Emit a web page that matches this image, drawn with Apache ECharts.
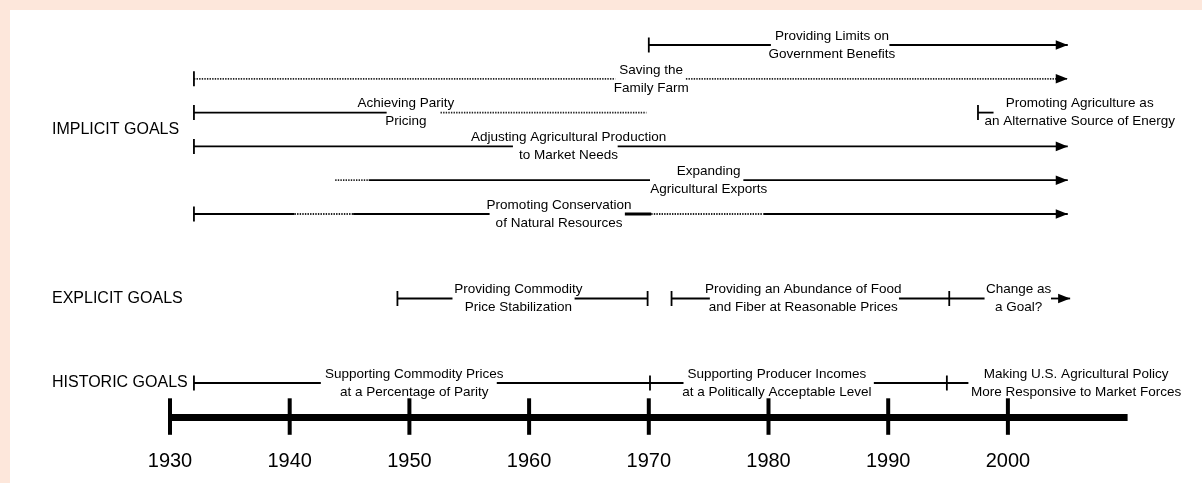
<!DOCTYPE html>
<html>
<head>
<meta charset="utf-8">
<script src="https://cdn.jsdelivr.net/npm/echarts@6/dist/echarts.min.js"></script>
<style>
  html, body { margin: 0; padding: 0; background: #fde7db; }
  #panel { position: absolute; left: 10px; top: 10px; width: 1192px; height: 473px; background: #ffffff; }
  #chart { position: absolute; left: 0; top: 0; width: 1202px; height: 483px; }
</style>
</head>
<body>
<div id="panel"></div>
<div id="chart"></div>
<script>
// ---- data ----
const tickYears = [1930, 1940, 1950, 1960, 1970, 1980, 1990, 2000];
const groupNames = ['IMPLICIT GOALS', 'EXPLICIT GOALS', 'HISTORIC GOALS'];
const groupRows = [2.5, 7.5, 10];
const timelineRow = 11;

// [row, fromYear, toYear]
const firmSegments = [
  [0, 1970, 1980.2], [0, 1990.1, 2005],
  [2, 1932, 1948.1],
  [2, 1997.5, 1998.8],
  [3, 1932, 1958.65], [3, 1967.4, 2005],
  [4, 1946.6, 1970.1], [4, 1977.9, 2005],
  [5, 1932, 1940.4], [5, 1945.3, 1956.7], [5, 1979.6, 2005],
  [7.5, 1949, 1953.6], [7.5, 1963.8, 1969.9], [7.5, 1971.9, 1975.1], [7.5, 1990.9, 1998.05], [7.5, 2003.6, 2005.2],
  [10, 1932, 1942.6], [10, 1957.3, 1972.9], [10, 1988.8, 1996.7]
];
const weakSegments = [
  [1, 1932, 1967.2], [1, 1973.1, 2005],
  [2, 1952.6, 1969.8],
  [4, 1943.8, 1946.6],
  [5, 1940.4, 1945.3], [5, 1970.2, 1979.6]
];
const strongSegments = [
  [5, 1968.0, 1970.2]
];
// [row, year]
const startMarks = [
  [0, 1970], [1, 1932], [2, 1932], [2, 1997.5], [3, 1932], [5, 1932],
  [7.5, 1949], [7.5, 1969.9], [7.5, 1971.9], [7.5, 1995.1],
  [10, 1932], [10, 1970.1], [10, 1994.9]
];
const arrowTips = [
  [0, 2005], [1, 2005], [3, 2005], [4, 2005], [5, 2005], [7.5, 2005.2]
];
// [row, year, text]
const goalLabels = [
  [0, 1985.3, 'Providing Limits on\nGovernment Benefits'],
  [1, 1970.2, 'Saving the\nFamily Farm'],
  [2, 1949.7, 'Achieving Parity\nPricing'],
  [2, 2006.0, 'Promoting Agriculture as\nan Alternative Source of Energy'],
  [3, 1963.3, 'Adjusting Agricultural Production\nto Market Needs'],
  [4, 1975.0, 'Expanding\nAgricultural Exports'],
  [5, 1962.5, 'Promoting Conservation\nof Natural Resources'],
  [7.5, 1959.1, 'Providing Commodity\nPrice Stabilization'],
  [7.5, 1982.9, 'Providing an Abundance of Food\nand Fiber at Reasonable Prices'],
  [7.5, 2000.9, 'Change as\na Goal?'],
  [10, 1950.4, 'Supporting Commodity Prices\nat a Percentage of Parity'],
  [10, 1980.7, 'Supporting Producer Incomes\nat a Politically Acceptable Level'],
  [10, 2005.7, 'Making U.S. Agricultural Policy\nMore Responsive to Market Forces']
];

// ---- chart ----
const FONT = '"Liberation Sans", Arial, Helvetica, sans-serif';
const chart = echarts.init(document.getElementById('chart'), null, { renderer: 'canvas' });

function segSeries(list, style) {
  return {
    type: 'custom',
    coordinateSystem: 'cartesian2d',
    clip: false,
    silent: true,
    encode: { x: [0, 1], y: 2 },
    data: list.map(s => [s[1], s[2], s[0]]),
    renderItem: function (params, api) {
      const a = api.coord([api.value(0), api.value(2)]);
      const b = api.coord([api.value(1), api.value(2)]);
      return {
        type: 'line',
        shape: { x1: a[0], y1: a[1], x2: b[0], y2: b[1] },
        style: Object.assign({ stroke: '#000', fill: null }, style)
      };
    }
  };
}

const option = {
  backgroundColor: 'transparent',
  animation: false,
  grid: { left: 170, right: 74.4, top: 11.2, bottom: 66.2, containLabel: false },
  xAxis: {
    type: 'value', min: 1930, max: 2010,
    splitLine: { show: false },
    axisLine: { show: true, onZero: false, lineStyle: { color: '#000', width: 7, cap: 'butt' } },
    axisTick: { show: false },
    axisLabel: {
      customValues: tickYears, margin: 35, fontSize: 20, color: '#000', fontFamily: FONT,
      formatter: v => String(v)
    }
  },
  yAxis: {
    type: 'value', inverse: true, min: -1, max: 11,
    splitLine: { show: false },
    axisLine: { show: false },
    axisTick: { show: false },
    axisLabel: {
      customValues: groupRows, align: 'left', margin: 118, fontSize: 16, color: '#000', fontFamily: FONT,
      formatter: v => groupNames[groupRows.indexOf(v)] || ''
    }
  },
  series: [
    segSeries(firmSegments, { lineWidth: 1.8 }),
    segSeries(weakSegments, { lineWidth: 1.8, lineDash: [1.4, 1.2], stroke: '#222' }),
    segSeries(strongSegments, { lineWidth: 3 }),
    {
      type: 'custom', coordinateSystem: 'cartesian2d', clip: false, silent: true,
      data: startMarks.map(m => [m[1], m[0]]),
      renderItem: function (params, api) {
        const p = api.coord([api.value(0), api.value(1)]);
        return { type: 'line', shape: { x1: p[0], y1: p[1] - 7.5, x2: p[0], y2: p[1] + 7.5 },
          style: { stroke: '#000', lineWidth: 1.8 } };
      }
    },
    {
      type: 'custom', coordinateSystem: 'cartesian2d', clip: false, silent: true,
      data: arrowTips.map(m => [m[1], m[0]]),
      renderItem: function (params, api) {
        const p = api.coord([api.value(0), api.value(1)]);
        return { type: 'polygon', shape: { points: [[p[0], p[1]], [p[0] - 12, p[1] - 4.8], [p[0] - 12, p[1] + 4.8]] },
          style: { fill: '#000' } };
      }
    },
    {
      type: 'custom', coordinateSystem: 'cartesian2d', clip: false, silent: true,
      data: tickYears.map(y => [y, timelineRow]),
      renderItem: function (params, api) {
        const p = api.coord([api.value(0), api.value(1)]);
        return { type: 'line', shape: { x1: p[0], y1: p[1] - 18.5, x2: p[0], y2: p[1] + 18 },
          style: { stroke: '#000', lineWidth: 4 } };
      }
    },
    {
      type: 'custom', coordinateSystem: 'cartesian2d', clip: false, silent: true,
      data: goalLabels.map(l => [l[1], l[0]]),
      renderItem: function (params, api) {
        const p = api.coord([api.value(0), api.value(1)]);
        return { type: 'text', x: p[0], y: p[1],
          style: { text: goalLabels[params.dataIndex][2], align: 'center', verticalAlign: 'middle',
            fontSize: 13.5, fontFamily: FONT, lineHeight: 18, fill: '#000' } };
      }
    }
  ]
};
chart.setOption(option);
</script>
</body>
</html>
